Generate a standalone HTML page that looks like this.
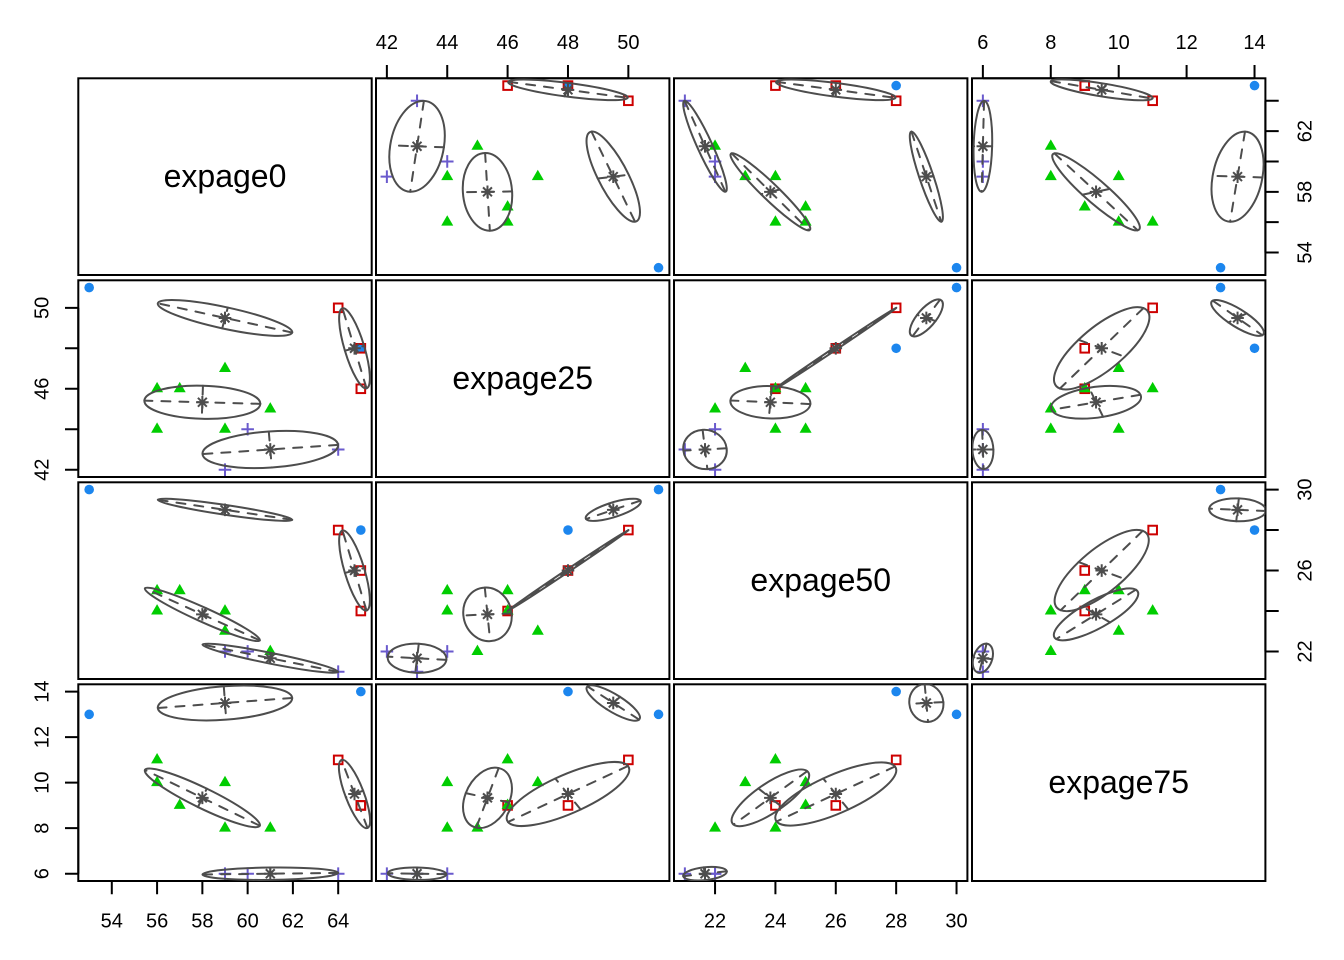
<!DOCTYPE html>
<html><head><meta charset="utf-8"><style>
html,body{margin:0;padding:0;background:#fff;}
svg{display:block;}
.bx{fill:none;stroke:#000;stroke-width:2;}
.tk{stroke:#000;stroke-width:2;fill:none;}
.e{fill:none;stroke:#4d4d4d;stroke-width:2;}
.d{fill:none;stroke:#4d4d4d;stroke-width:2;stroke-dasharray:9 9;stroke-linecap:round;}
.tl{font-family:"Liberation Sans",Arial,sans-serif;font-size:20px;fill:#000;}
.dl{font-family:"Liberation Sans",Arial,sans-serif;font-size:32px;fill:#000;}
</style></head><body>
<svg width="1344" height="960" viewBox="0 0 1344 960" xmlns="http://www.w3.org/2000/svg">
<defs>
<g id="pb"><circle r="4.8" fill="#1C86EE"/></g>
<g id="pr"><rect x="-4.3" y="-4.3" width="8.6" height="8.6" fill="none" stroke="#CD0000" stroke-width="2"/></g>
<g id="pg"><polygon points="0,-6.9 6,3.5 -6,3.5" fill="#00CD00"/></g>
<g id="pp"><path d="M-6.3,0H6.3M0,-6.3V6.3" stroke="#6A5ACD" stroke-width="2" fill="none"/></g>
<g id="st"><path d="M-4.45,-4.45L4.45,4.45M-4.45,4.45L4.45,-4.45M-6.3,0H6.3M0,-6.3V6.3" stroke="#4d4d4d" stroke-width="2" fill="none"/></g>
<clipPath id="k12"><rect x="376" y="78.3" width="293.4" height="196.7"/></clipPath>
<clipPath id="k13"><rect x="674" y="78.3" width="293.4" height="196.7"/></clipPath>
<clipPath id="k14"><rect x="972" y="78.3" width="293.4" height="196.7"/></clipPath>
<clipPath id="k21"><rect x="78.3" y="280.3" width="293.4" height="196.7"/></clipPath>
<clipPath id="k23"><rect x="674" y="280.3" width="293.4" height="196.7"/></clipPath>
<clipPath id="k24"><rect x="972" y="280.3" width="293.4" height="196.7"/></clipPath>
<clipPath id="k31"><rect x="78.3" y="482.3" width="293.4" height="196.7"/></clipPath>
<clipPath id="k32"><rect x="376" y="482.3" width="293.4" height="196.7"/></clipPath>
<clipPath id="k34"><rect x="972" y="482.3" width="293.4" height="196.7"/></clipPath>
<clipPath id="k41"><rect x="78.3" y="684.3" width="293.4" height="196.7"/></clipPath>
<clipPath id="k42"><rect x="376" y="684.3" width="293.4" height="196.7"/></clipPath>
<clipPath id="k43"><rect x="674" y="684.3" width="293.4" height="196.7"/></clipPath>
</defs>

<!-- Panel boxes -->
<rect class="bx" x="78.3" y="78.3" width="293.4" height="196.7"/>
<rect class="bx" x="376" y="78.3" width="293.4" height="196.7"/>
<rect class="bx" x="674" y="78.3" width="293.4" height="196.7"/>
<rect class="bx" x="972" y="78.3" width="293.4" height="196.7"/>
<rect class="bx" x="78.3" y="280.3" width="293.4" height="196.7"/>
<rect class="bx" x="376" y="280.3" width="293.4" height="196.7"/>
<rect class="bx" x="674" y="280.3" width="293.4" height="196.7"/>
<rect class="bx" x="972" y="280.3" width="293.4" height="196.7"/>
<rect class="bx" x="78.3" y="482.3" width="293.4" height="196.7"/>
<rect class="bx" x="376" y="482.3" width="293.4" height="196.7"/>
<rect class="bx" x="674" y="482.3" width="293.4" height="196.7"/>
<rect class="bx" x="972" y="482.3" width="293.4" height="196.7"/>
<rect class="bx" x="78.3" y="684.3" width="293.4" height="196.7"/>
<rect class="bx" x="376" y="684.3" width="293.4" height="196.7"/>
<rect class="bx" x="674" y="684.3" width="293.4" height="196.7"/>
<rect class="bx" x="972" y="684.3" width="293.4" height="196.7"/>

<!-- Diagonal labels -->
<text class="dl" x="225" y="187" text-anchor="middle">expage0</text>
<text class="dl" x="522.7" y="389" text-anchor="middle">expage25</text>
<text class="dl" x="820.7" y="591" text-anchor="middle">expage50</text>
<text class="dl" x="1118.7" y="793" text-anchor="middle">expage75</text>

<!-- Top axis col2 -->
<path class="tk" d="M386.87,78.3V65M447.24,78.3V65M507.6,78.3V65M567.98,78.3V65M628.35,78.3V65M386.87,78.3H628.35"/>
<text class="tl" x="386.87" y="49" text-anchor="middle">42</text>
<text class="tl" x="447.24" y="49" text-anchor="middle">44</text>
<text class="tl" x="507.6" y="49" text-anchor="middle">46</text>
<text class="tl" x="567.98" y="49" text-anchor="middle">48</text>
<text class="tl" x="628.35" y="49" text-anchor="middle">50</text>
<!-- Top axis col4 -->
<path class="tk" d="M982.87,78.3V65M1050.78,78.3V65M1118.7,78.3V65M1186.6,78.3V65M1254.53,78.3V65M982.87,78.3H1254.53"/>
<text class="tl" x="982.87" y="49" text-anchor="middle">6</text>
<text class="tl" x="1050.78" y="49" text-anchor="middle">8</text>
<text class="tl" x="1118.7" y="49" text-anchor="middle">10</text>
<text class="tl" x="1186.6" y="49" text-anchor="middle">12</text>
<text class="tl" x="1254.53" y="49" text-anchor="middle">14</text>
<!-- Bottom axis col1 -->
<path class="tk" d="M111.8,881V894.3M157.08,881V894.3M202.36,881V894.3M247.64,881V894.3M292.9,881V894.3M338.2,881V894.3M111.8,881H338.2"/>
<text class="tl" x="111.8" y="927.3" text-anchor="middle">54</text>
<text class="tl" x="157.08" y="927.3" text-anchor="middle">56</text>
<text class="tl" x="202.36" y="927.3" text-anchor="middle">58</text>
<text class="tl" x="247.64" y="927.3" text-anchor="middle">60</text>
<text class="tl" x="292.9" y="927.3" text-anchor="middle">62</text>
<text class="tl" x="338.2" y="927.3" text-anchor="middle">64</text>
<!-- Bottom axis col3 -->
<path class="tk" d="M715.05,881V894.3M775.42,881V894.3M835.79,881V894.3M896.16,881V894.3M956.53,881V894.3M715.05,881H956.53"/>
<text class="tl" x="715.05" y="927.3" text-anchor="middle">22</text>
<text class="tl" x="775.42" y="927.3" text-anchor="middle">24</text>
<text class="tl" x="835.79" y="927.3" text-anchor="middle">26</text>
<text class="tl" x="896.16" y="927.3" text-anchor="middle">28</text>
<text class="tl" x="956.53" y="927.3" text-anchor="middle">30</text>
<!-- Left axis row2 -->
<path class="tk" d="M78.3,469.71H65M78.3,429.24H65M78.3,388.77H65M78.3,348.29H65M78.3,307.82H65M78.3,469.71V307.82"/>
<text class="tl" transform="translate(48.3,469.71) rotate(-90)" text-anchor="middle">42</text>
<text class="tl" transform="translate(48.3,388.77) rotate(-90)" text-anchor="middle">46</text>
<text class="tl" transform="translate(48.3,307.82) rotate(-90)" text-anchor="middle">50</text>
<!-- Left axis row4 -->
<path class="tk" d="M78.3,873.71H65M78.3,828.18H65M78.3,782.65H65M78.3,737.12H65M78.3,691.59H65M78.3,873.71V691.59"/>
<text class="tl" transform="translate(48.3,873.71) rotate(-90)" text-anchor="middle">6</text>
<text class="tl" transform="translate(48.3,828.18) rotate(-90)" text-anchor="middle">8</text>
<text class="tl" transform="translate(48.3,782.65) rotate(-90)" text-anchor="middle">10</text>
<text class="tl" transform="translate(48.3,737.12) rotate(-90)" text-anchor="middle">12</text>
<text class="tl" transform="translate(48.3,691.59) rotate(-90)" text-anchor="middle">14</text>
<!-- Right axis row1 -->
<path class="tk" d="M1265.4,252.54H1278.7M1265.4,222.18H1278.7M1265.4,191.83H1278.7M1265.4,161.48H1278.7M1265.4,131.12H1278.7M1265.4,100.77H1278.7M1265.4,252.54V100.77"/>
<text class="tl" transform="translate(1311.5,252.54) rotate(-90)" text-anchor="middle">54</text>
<text class="tl" transform="translate(1311.5,191.83) rotate(-90)" text-anchor="middle">58</text>
<text class="tl" transform="translate(1311.5,131.12) rotate(-90)" text-anchor="middle">62</text>
<!-- Right axis row3 -->
<path class="tk" d="M1265.4,651.48H1278.7M1265.4,611H1278.7M1265.4,570.53H1278.7M1265.4,530.05H1278.7M1265.4,489.58H1278.7M1265.4,651.48V489.58"/>
<text class="tl" transform="translate(1311.5,651.48) rotate(-90)" text-anchor="middle">22</text>
<text class="tl" transform="translate(1311.5,570.53) rotate(-90)" text-anchor="middle">26</text>
<text class="tl" transform="translate(1311.5,489.58) rotate(-90)" text-anchor="middle">30</text>

<!-- ===== Panel r1c2 ===== -->
<g clip-path="url(#k12)">
<use href="#pb" x="658.53" y="267.71"/><use href="#pb" x="567.98" y="85.59"/>
<use href="#pr" x="628.35" y="100.77"/><use href="#pr" x="567.98" y="85.59"/><use href="#pr" x="507.6" y="85.59"/>
<use href="#pg" x="537.79" y="176.65"/><use href="#pg" x="507.6" y="222.18"/><use href="#pg" x="507.6" y="207.01"/><use href="#pg" x="477.42" y="146.3"/><use href="#pg" x="447.24" y="222.18"/><use href="#pg" x="447.24" y="176.65"/>
<use href="#pp" x="386.87" y="176.65"/><use href="#pp" x="447.24" y="161.48"/><use href="#pp" x="417.05" y="100.77"/>
<circle class="e" vector-effect="non-scaling-stroke" r="1" transform="matrix(-21.78,-45.05,-15.51,1.88,613.25,176.65)"/>
<path class="d" d="M591.47,131.6L635.03,221.7M597.74,178.53L628.76,174.77"/>
<use href="#st" x="613.25" y="176.65"/>
<circle class="e" vector-effect="non-scaling-stroke" r="1" transform="matrix(-59.66,-8.04,-3.58,6.44,567.98,89.84)"/>
<path class="d" d="M508.32,81.8L627.64,97.88M564.4,96.28L571.56,83.4"/>
<use href="#st" x="567.98" y="89.84"/>
<circle class="e" vector-effect="non-scaling-stroke" r="1" transform="matrix(-2.39,-38.88,24.61,-0.4,487.48,191.83)"/>
<path class="d" d="M485.09,152.95L489.87,230.71M512.09,191.43L462.87,192.23"/>
<use href="#st" x="487.48" y="191.83"/>
<circle class="e" vector-effect="non-scaling-stroke" r="1" transform="matrix(6.86,-45.45,26.85,1.01,417.05,146.3)"/>
<path class="d" d="M423.91,100.85L410.19,191.75M443.9,147.31L390.2,145.29"/>
<use href="#st" x="417.05" y="146.3"/>
</g>

<!-- ===== Panel r1c3 ===== -->
<g clip-path="url(#k13)">
<use href="#pb" x="956.53" y="267.71"/><use href="#pb" x="896.16" y="85.59"/>
<use href="#pr" x="896.16" y="100.77"/><use href="#pr" x="835.79" y="85.59"/><use href="#pr" x="775.42" y="85.59"/>
<use href="#pg" x="745.24" y="176.65"/><use href="#pg" x="775.42" y="222.18"/><use href="#pg" x="805.6" y="207.01"/><use href="#pg" x="715.05" y="146.3"/><use href="#pg" x="805.6" y="222.18"/><use href="#pg" x="775.42" y="176.65"/>
<use href="#pp" x="715.05" y="176.65"/><use href="#pp" x="715.05" y="161.48"/><use href="#pp" x="684.87" y="100.77"/>
<circle class="e" vector-effect="non-scaling-stroke" r="1" transform="matrix(-14.92,-45.05,7.16,-0.6,926.35,176.65)"/>
<path class="d" d="M911.43,131.6L941.27,221.7M933.51,176.05L919.19,177.25"/>
<use href="#st" x="926.35" y="176.65"/>
<circle class="e" vector-effect="non-scaling-stroke" r="1" transform="matrix(-59.66,-8.04,-3.58,6.44,835.79,89.84)"/>
<path class="d" d="M776.13,81.8L895.45,97.88M832.21,96.28L839.37,83.4"/>
<use href="#st" x="835.79" y="89.84"/>
<circle class="e" vector-effect="non-scaling-stroke" r="1" transform="matrix(-38.78,-38.48,9.4,-2.35,770.39,191.83)"/>
<path class="d" d="M731.61,153.35L809.17,230.31M779.79,189.48L760.99,194.18"/>
<use href="#st" x="770.39" y="191.83"/>
<circle class="e" vector-effect="non-scaling-stroke" r="1" transform="matrix(-20.36,-45.45,7.76,-0.87,705,146.3)"/>
<path class="d" d="M684.64,100.85L725.36,191.75M712.76,145.43L697.24,147.17"/>
<use href="#st" x="705" y="146.3"/>
</g>

<!-- ===== Panel r1c4 ===== -->
<g clip-path="url(#k14)">
<use href="#pb" x="1220.57" y="267.71"/><use href="#pb" x="1254.53" y="85.59"/>
<use href="#pr" x="1152.66" y="100.77"/><use href="#pr" x="1084.74" y="85.59"/><use href="#pr" x="1084.74" y="85.59"/>
<use href="#pg" x="1118.7" y="176.65"/><use href="#pg" x="1152.66" y="222.18"/><use href="#pg" x="1084.74" y="207.01"/><use href="#pg" x="1050.78" y="146.3"/><use href="#pg" x="1118.7" y="222.18"/><use href="#pg" x="1050.78" y="176.65"/>
<use href="#pp" x="982.87" y="176.65"/><use href="#pp" x="982.87" y="161.48"/><use href="#pp" x="982.87" y="100.77"/>
<circle class="e" vector-effect="non-scaling-stroke" r="1" transform="matrix(7.46,-45.05,24.91,0.8,1237.55,176.65)"/>
<path class="d" d="M1245.01,131.6L1230.09,221.7M1262.46,177.45L1212.64,175.85"/>
<use href="#st" x="1237.55" y="176.65"/>
<circle class="e" vector-effect="non-scaling-stroke" r="1" transform="matrix(-50.71,-8.72,5,-5.77,1101.7,89.84)"/>
<path class="d" d="M1050.99,81.12L1152.41,98.56M1106.7,84.07L1096.7,95.61"/>
<use href="#st" x="1101.7" y="89.84"/>
<circle class="e" vector-effect="non-scaling-stroke" r="1" transform="matrix(-41.62,-38.48,-13.72,2.95,1096.05,191.83)"/>
<path class="d" d="M1054.43,153.35L1137.67,230.31M1082.33,194.78L1109.77,188.88"/>
<use href="#st" x="1096.05" y="191.83"/>
<circle class="e" vector-effect="non-scaling-stroke" r="1" transform="matrix(1.19,-45.45,9.25,0,982.87,146.3)"/>
<path class="d" d="M984.06,100.85L981.68,191.75M992.12,146.3L973.62,146.3"/>
<use href="#st" x="982.87" y="146.3"/>
</g>

<!-- ===== Panel r2c1 ===== -->
<g clip-path="url(#k21)">
<use href="#pb" x="89.17" y="287.58"/><use href="#pb" x="360.83" y="348.29"/>
<use href="#pr" x="338.2" y="307.82"/><use href="#pr" x="360.83" y="348.29"/><use href="#pr" x="360.83" y="388.77"/>
<use href="#pg" x="225" y="368.53"/><use href="#pg" x="157.08" y="388.77"/><use href="#pg" x="179.72" y="388.77"/><use href="#pg" x="270.28" y="409"/><use href="#pg" x="157.08" y="429.24"/><use href="#pg" x="225" y="429.24"/>
<use href="#pp" x="225" y="469.71"/><use href="#pp" x="247.64" y="429.24"/><use href="#pp" x="338.2" y="449.48"/>
<circle class="e" vector-effect="non-scaling-stroke" r="1" transform="matrix(67.2,14.6,-2.8,10.4,225,317.94)"/>
<path class="d" d="M292.2,332.54L157.8,303.34M222.2,328.34L227.8,307.54"/>
<use href="#st" x="225" y="317.94"/>
<circle class="e" vector-effect="non-scaling-stroke" r="1" transform="matrix(12,40,-9.6,2.4,354.5,348.29)"/>
<path class="d" d="M366.5,388.29L342.5,308.29M344.9,350.69L364.1,345.89"/>
<use href="#st" x="354.5" y="348.29"/>
<circle class="e" vector-effect="non-scaling-stroke" r="1" transform="matrix(58,1.6,0.6,-16.5,202.36,402.26)"/>
<path class="d" d="M260.36,403.86L144.36,400.66M202.96,385.76L201.76,418.76"/>
<use href="#st" x="202.36" y="402.26"/>
<circle class="e" vector-effect="non-scaling-stroke" r="1" transform="matrix(67.8,-4.6,-1.5,-18,270.28,449.48)"/>
<path class="d" d="M338.08,444.88L202.48,454.08M268.78,431.48L271.78,467.48"/>
<use href="#st" x="270.28" y="449.48"/>
</g>

<!-- ===== Panel r2c3 ===== -->
<g clip-path="url(#k23)">
<use href="#pb" x="956.53" y="287.58"/><use href="#pb" x="896.16" y="348.29"/>
<use href="#pr" x="896.16" y="307.82"/><use href="#pr" x="835.79" y="348.29"/><use href="#pr" x="775.42" y="388.77"/>
<use href="#pg" x="745.24" y="368.53"/><use href="#pg" x="775.42" y="388.77"/><use href="#pg" x="805.6" y="388.77"/><use href="#pg" x="715.05" y="409"/><use href="#pg" x="805.6" y="429.24"/><use href="#pg" x="775.42" y="429.24"/>
<use href="#pp" x="715.05" y="469.71"/><use href="#pp" x="715.05" y="429.24"/><use href="#pp" x="684.87" y="449.48"/>
<circle class="e" vector-effect="non-scaling-stroke" r="1" transform="matrix(13.72,-18.24,9.25,3.08,926.35,317.94)"/>
<path class="d" d="M940.07,299.7L912.63,336.18M935.6,321.02L917.1,314.86"/>
<use href="#st" x="926.35" y="317.94"/>
<circle class="e" vector-effect="non-scaling-stroke" r="1" transform="matrix(60.41,-40.49,1.34,0.8,835.79,348.29)"/>
<path class="d" d="M896.2,307.8L775.38,388.78M837.13,349.09L834.45,347.49"/>
<use href="#st" x="835.79" y="348.29"/>
<circle class="e" vector-effect="non-scaling-stroke" r="1" transform="matrix(39.97,1.81,1.64,-16.16,770.39,402.26)"/>
<path class="d" d="M810.36,404.07L730.42,400.45M772.03,386.1L768.75,418.42"/>
<use href="#st" x="770.39" y="402.26"/>
<circle class="e" vector-effect="non-scaling-stroke" r="1" transform="matrix(-2.39,-19.64,21.63,-1.17,705,449.48)"/>
<path class="d" d="M702.61,429.84L707.39,469.12M726.63,448.31L683.37,450.65"/>
<use href="#st" x="705" y="449.48"/>
</g>

<!-- ===== Panel r2c4 ===== -->
<g clip-path="url(#k24)">
<use href="#pb" x="1220.57" y="287.58"/><use href="#pb" x="1254.53" y="348.29"/>
<use href="#pr" x="1152.66" y="307.82"/><use href="#pr" x="1084.74" y="348.29"/><use href="#pr" x="1084.74" y="388.77"/>
<use href="#pg" x="1118.7" y="368.53"/><use href="#pg" x="1152.66" y="388.77"/><use href="#pg" x="1084.74" y="388.77"/><use href="#pg" x="1050.78" y="409"/><use href="#pg" x="1118.7" y="429.24"/><use href="#pg" x="1050.78" y="429.24"/>
<use href="#pp" x="982.87" y="469.71"/><use href="#pp" x="982.87" y="429.24"/><use href="#pp" x="982.87" y="449.48"/>
<circle class="e" vector-effect="non-scaling-stroke" r="1" transform="matrix(-24.76,-17.3,9.1,-4.56,1237.55,317.94)"/>
<path class="d" d="M1212.79,300.64L1262.31,335.24M1246.65,313.38L1228.45,322.5"/>
<use href="#st" x="1237.55" y="317.94"/>
<circle class="e" vector-effect="non-scaling-stroke" r="1" transform="matrix(41.76,-40.22,-23.12,-8.51,1101.7,348.29)"/>
<path class="d" d="M1143.46,308.07L1059.94,388.51M1078.58,339.78L1124.82,356.8"/>
<use href="#st" x="1101.7" y="348.29"/>
<circle class="e" vector-effect="non-scaling-stroke" r="1" transform="matrix(44.45,-7.51,7.01,14.55,1096.05,402.26)"/>
<path class="d" d="M1140.5,394.75L1051.6,409.77M1103.06,416.81L1089.04,387.71"/>
<use href="#st" x="1096.05" y="402.26"/>
<circle class="e" vector-effect="non-scaling-stroke" r="1" transform="matrix(-0.75,-19.64,10.5,0,982.87,449.48)"/>
<path class="d" d="M982.12,429.84L983.62,469.12M993.37,449.48L972.37,449.48"/>
<use href="#st" x="982.87" y="449.48"/>
</g>

<!-- ===== Panel r3c1 ===== -->
<g clip-path="url(#k31)">
<use href="#pb" x="89.17" y="489.58"/><use href="#pb" x="360.83" y="530.05"/>
<use href="#pr" x="338.2" y="530.05"/><use href="#pr" x="360.83" y="570.53"/><use href="#pr" x="360.83" y="611"/>
<use href="#pg" x="225" y="631.24"/><use href="#pg" x="157.08" y="611"/><use href="#pg" x="179.72" y="590.77"/><use href="#pg" x="270.28" y="651.48"/><use href="#pg" x="157.08" y="590.77"/><use href="#pg" x="225" y="611"/>
<use href="#pp" x="225" y="651.48"/><use href="#pp" x="247.64" y="651.48"/><use href="#pp" x="338.2" y="671.71"/>
<circle class="e" vector-effect="non-scaling-stroke" r="1" transform="matrix(67.2,10,0.9,-4.8,225,509.82)"/>
<path class="d" d="M292.2,519.82L157.8,499.82M225.9,505.02L224.1,514.62"/>
<use href="#st" x="225" y="509.82"/>
<circle class="e" vector-effect="non-scaling-stroke" r="1" transform="matrix(12,40,-9.6,2.4,354.5,570.53)"/>
<path class="d" d="M366.5,610.53L342.5,530.53M344.9,572.93L364.1,568.13"/>
<use href="#st" x="354.5" y="570.53"/>
<circle class="e" vector-effect="non-scaling-stroke" r="1" transform="matrix(57.4,26,3.5,-6.3,202.36,614.38)"/>
<path class="d" d="M259.76,640.38L144.96,588.38M205.86,608.08L198.86,620.68"/>
<use href="#st" x="202.36" y="614.38"/>
<circle class="e" vector-effect="non-scaling-stroke" r="1" transform="matrix(67.8,13.65,1.3,-5.2,270.28,658.22)"/>
<path class="d" d="M338.08,671.87L202.48,644.57M271.58,653.02L268.98,663.42"/>
<use href="#st" x="270.28" y="658.22"/>
</g>

<!-- ===== Panel r3c2 ===== -->
<g clip-path="url(#k32)">
<use href="#pb" x="658.53" y="489.58"/><use href="#pb" x="567.98" y="530.05"/>
<use href="#pr" x="628.35" y="530.05"/><use href="#pr" x="567.98" y="570.53"/><use href="#pr" x="507.6" y="611"/>
<use href="#pg" x="537.79" y="631.24"/><use href="#pg" x="507.6" y="611"/><use href="#pg" x="507.6" y="590.77"/><use href="#pg" x="477.42" y="651.48"/><use href="#pg" x="447.24" y="590.77"/><use href="#pg" x="447.24" y="611"/>
<use href="#pp" x="386.87" y="651.48"/><use href="#pp" x="447.24" y="651.48"/><use href="#pp" x="417.05" y="671.71"/>
<circle class="e" vector-effect="non-scaling-stroke" r="1" transform="matrix(27.2,-9.2,-4.6,-6.2,613.25,509.82)"/>
<path class="d" d="M640.45,500.62L586.05,519.02M608.65,503.62L617.85,516.02"/>
<use href="#st" x="613.25" y="509.82"/>
<circle class="e" vector-effect="non-scaling-stroke" r="1" transform="matrix(60.4,-40.5,-1.2,-0.9,567.98,570.53)"/>
<path class="d" d="M628.38,530.03L507.58,611.03M566.78,569.63L569.18,571.43"/>
<use href="#st" x="567.98" y="570.53"/>
<circle class="e" vector-effect="non-scaling-stroke" r="1" transform="matrix(-2.7,-26.8,24.1,-1.1,487.48,614.38)"/>
<path class="d" d="M484.78,587.58L490.18,641.18M511.58,613.28L463.38,615.48"/>
<use href="#st" x="487.48" y="614.38"/>
<circle class="e" vector-effect="non-scaling-stroke" r="1" transform="matrix(29.3,1.6,1.75,-14.5,417.05,658.22)"/>
<path class="d" d="M446.35,659.82L387.75,656.62M418.8,643.72L415.3,672.72"/>
<use href="#st" x="417.05" y="658.22"/>
</g>

<!-- ===== Panel r3c4 ===== -->
<g clip-path="url(#k34)">
<use href="#pb" x="1220.57" y="489.58"/><use href="#pb" x="1254.53" y="530.05"/>
<use href="#pr" x="1152.66" y="530.05"/><use href="#pr" x="1084.74" y="570.53"/><use href="#pr" x="1084.74" y="611"/>
<use href="#pg" x="1118.7" y="631.24"/><use href="#pg" x="1152.66" y="611"/><use href="#pg" x="1084.74" y="590.77"/><use href="#pg" x="1050.78" y="651.48"/><use href="#pg" x="1118.7" y="590.77"/><use href="#pg" x="1050.78" y="611"/>
<use href="#pp" x="982.87" y="651.48"/><use href="#pp" x="982.87" y="651.48"/><use href="#pp" x="982.87" y="671.71"/>
<circle class="e" vector-effect="non-scaling-stroke" r="1" transform="matrix(28.34,1.14,1.3,-11.4,1237.55,509.82)"/>
<path class="d" d="M1265.89,510.96L1209.21,508.68M1238.85,498.42L1236.25,521.22"/>
<use href="#st" x="1237.55" y="509.82"/>
<circle class="e" vector-effect="non-scaling-stroke" r="1" transform="matrix(41.02,-39.69,-23.12,-8.45,1101.7,570.53)"/>
<path class="d" d="M1142.72,530.84L1060.68,610.22M1078.58,562.08L1124.82,578.98"/>
<use href="#st" x="1101.7" y="570.53"/>
<circle class="e" vector-effect="non-scaling-stroke" r="1" transform="matrix(39.83,-24.67,14.02,8.04,1096.05,614.38)"/>
<path class="d" d="M1135.88,589.71L1056.22,639.05M1110.07,622.42L1082.03,606.34"/>
<use href="#st" x="1096.05" y="614.38"/>
<circle class="e" vector-effect="non-scaling-stroke" r="1" transform="matrix(3.73,-14.61,9.4,0.87,982.87,658.22)"/>
<path class="d" d="M986.6,643.61L979.14,672.83M992.27,659.09L973.47,657.35"/>
<use href="#st" x="982.87" y="658.22"/>
</g>

<!-- ===== Panel r4c1 ===== -->
<g clip-path="url(#k41)">
<use href="#pb" x="89.17" y="714.35"/><use href="#pb" x="360.83" y="691.59"/>
<use href="#pr" x="338.2" y="759.89"/><use href="#pr" x="360.83" y="805.42"/><use href="#pr" x="360.83" y="805.42"/>
<use href="#pg" x="225" y="782.65"/><use href="#pg" x="157.08" y="759.89"/><use href="#pg" x="179.72" y="805.42"/><use href="#pg" x="270.28" y="828.18"/><use href="#pg" x="157.08" y="782.65"/><use href="#pg" x="225" y="828.18"/>
<use href="#pp" x="225" y="873.71"/><use href="#pp" x="247.64" y="873.71"/><use href="#pp" x="338.2" y="873.71"/>
<circle class="e" vector-effect="non-scaling-stroke" r="1" transform="matrix(67.2,-5,-1.2,-16.7,225,702.97)"/>
<path class="d" d="M292.2,697.97L157.8,707.97M223.8,686.27L226.2,719.67"/>
<use href="#st" x="225" y="702.97"/>
<circle class="e" vector-effect="non-scaling-stroke" r="1" transform="matrix(13,34,8.6,-3.35,354.5,794)"/>
<path class="d" d="M367.5,828L341.5,760M363.1,790.65L345.9,797.35"/>
<use href="#st" x="354.5" y="794"/>
<circle class="e" vector-effect="non-scaling-stroke" r="1" transform="matrix(57.4,27.9,-4.4,9.2,202.36,797.84)"/>
<path class="d" d="M259.76,825.74L144.96,769.94M197.96,807.04L206.76,788.64"/>
<use href="#st" x="202.36" y="797.84"/>
<circle class="e" vector-effect="non-scaling-stroke" r="1" transform="matrix(67.8,-0.8,0,-6.2,270.28,873.71)"/>
<path class="d" d="M338.08,872.91L202.48,874.51M270.28,867.51L270.28,879.91"/>
<use href="#st" x="270.28" y="873.71"/>
</g>

<!-- ===== Panel r4c2 ===== -->
<g clip-path="url(#k42)">
<use href="#pb" x="658.53" y="714.35"/><use href="#pb" x="567.98" y="691.59"/>
<use href="#pr" x="628.35" y="759.89"/><use href="#pr" x="567.98" y="805.42"/><use href="#pr" x="507.6" y="805.42"/>
<use href="#pg" x="537.79" y="782.65"/><use href="#pg" x="507.6" y="759.89"/><use href="#pg" x="507.6" y="805.42"/><use href="#pg" x="477.42" y="828.18"/><use href="#pg" x="447.24" y="782.65"/><use href="#pg" x="447.24" y="828.18"/>
<use href="#pp" x="386.87" y="873.71"/><use href="#pp" x="447.24" y="873.71"/><use href="#pp" x="417.05" y="873.71"/>
<circle class="e" vector-effect="non-scaling-stroke" r="1" transform="matrix(25.8,16.6,6.8,-6.1,613.25,702.97)"/>
<path class="d" d="M639.05,719.57L587.45,686.37M620.05,696.87L606.45,709.07"/>
<use href="#st" x="613.25" y="702.97"/>
<circle class="e" vector-effect="non-scaling-stroke" r="1" transform="matrix(60,-28,12.7,15.5,567.98,794)"/>
<path class="d" d="M627.98,766L507.98,822M580.68,809.5L555.28,778.5"/>
<use href="#st" x="567.98" y="794"/>
<circle class="e" vector-effect="non-scaling-stroke" r="1" transform="matrix(11.2,-29.8,-21.7,-4.7,487.48,797.84)"/>
<path class="d" d="M498.68,768.04L476.28,827.64M465.78,793.14L509.18,802.54"/>
<use href="#st" x="487.48" y="797.84"/>
<circle class="e" vector-effect="non-scaling-stroke" r="1" transform="matrix(29.3,0.5,0,-6.2,417.05,873.71)"/>
<path class="d" d="M446.35,874.21L387.75,873.21M417.05,867.51L417.05,879.91"/>
<use href="#st" x="417.05" y="873.71"/>
</g>

<!-- ===== Panel r4c3 ===== -->
<g clip-path="url(#k43)">
<use href="#pb" x="956.53" y="714.35"/><use href="#pb" x="896.16" y="691.59"/>
<use href="#pr" x="896.16" y="759.89"/><use href="#pr" x="835.79" y="805.42"/><use href="#pr" x="775.42" y="805.42"/>
<use href="#pg" x="745.24" y="782.65"/><use href="#pg" x="775.42" y="759.89"/><use href="#pg" x="805.6" y="805.42"/><use href="#pg" x="715.05" y="828.18"/><use href="#pg" x="805.6" y="782.65"/><use href="#pg" x="775.42" y="828.18"/>
<use href="#pp" x="715.05" y="873.71"/><use href="#pp" x="715.05" y="873.71"/><use href="#pp" x="684.87" y="873.71"/>
<circle class="e" vector-effect="non-scaling-stroke" r="1" transform="matrix(-1.7,-19,17,-0.87,926.35,702.97)"/>
<path class="d" d="M924.65,683.97L928.05,721.97M943.35,702.1L909.35,703.84"/>
<use href="#st" x="926.35" y="702.97"/>
<circle class="e" vector-effect="non-scaling-stroke" r="1" transform="matrix(59.2,-27.5,12.6,15.5,835.79,794)"/>
<path class="d" d="M894.99,766.5L776.59,821.5M848.39,809.5L823.19,778.5"/>
<use href="#st" x="835.79" y="794"/>
<circle class="e" vector-effect="non-scaling-stroke" r="1" transform="matrix(36.8,-26.7,-12,-9.4,770.39,797.84)"/>
<path class="d" d="M807.19,771.14L733.59,824.54M758.39,788.44L782.39,807.24"/>
<use href="#st" x="770.39" y="797.84"/>
<circle class="e" vector-effect="non-scaling-stroke" r="1" transform="matrix(21.8,-2.5,-1.3,-6.3,705,873.71)"/>
<path class="d" d="M726.8,871.21L683.2,876.21M703.7,867.41L706.3,880.01"/>
<use href="#st" x="705" y="873.71"/>
</g>
</svg>
</body></html>
